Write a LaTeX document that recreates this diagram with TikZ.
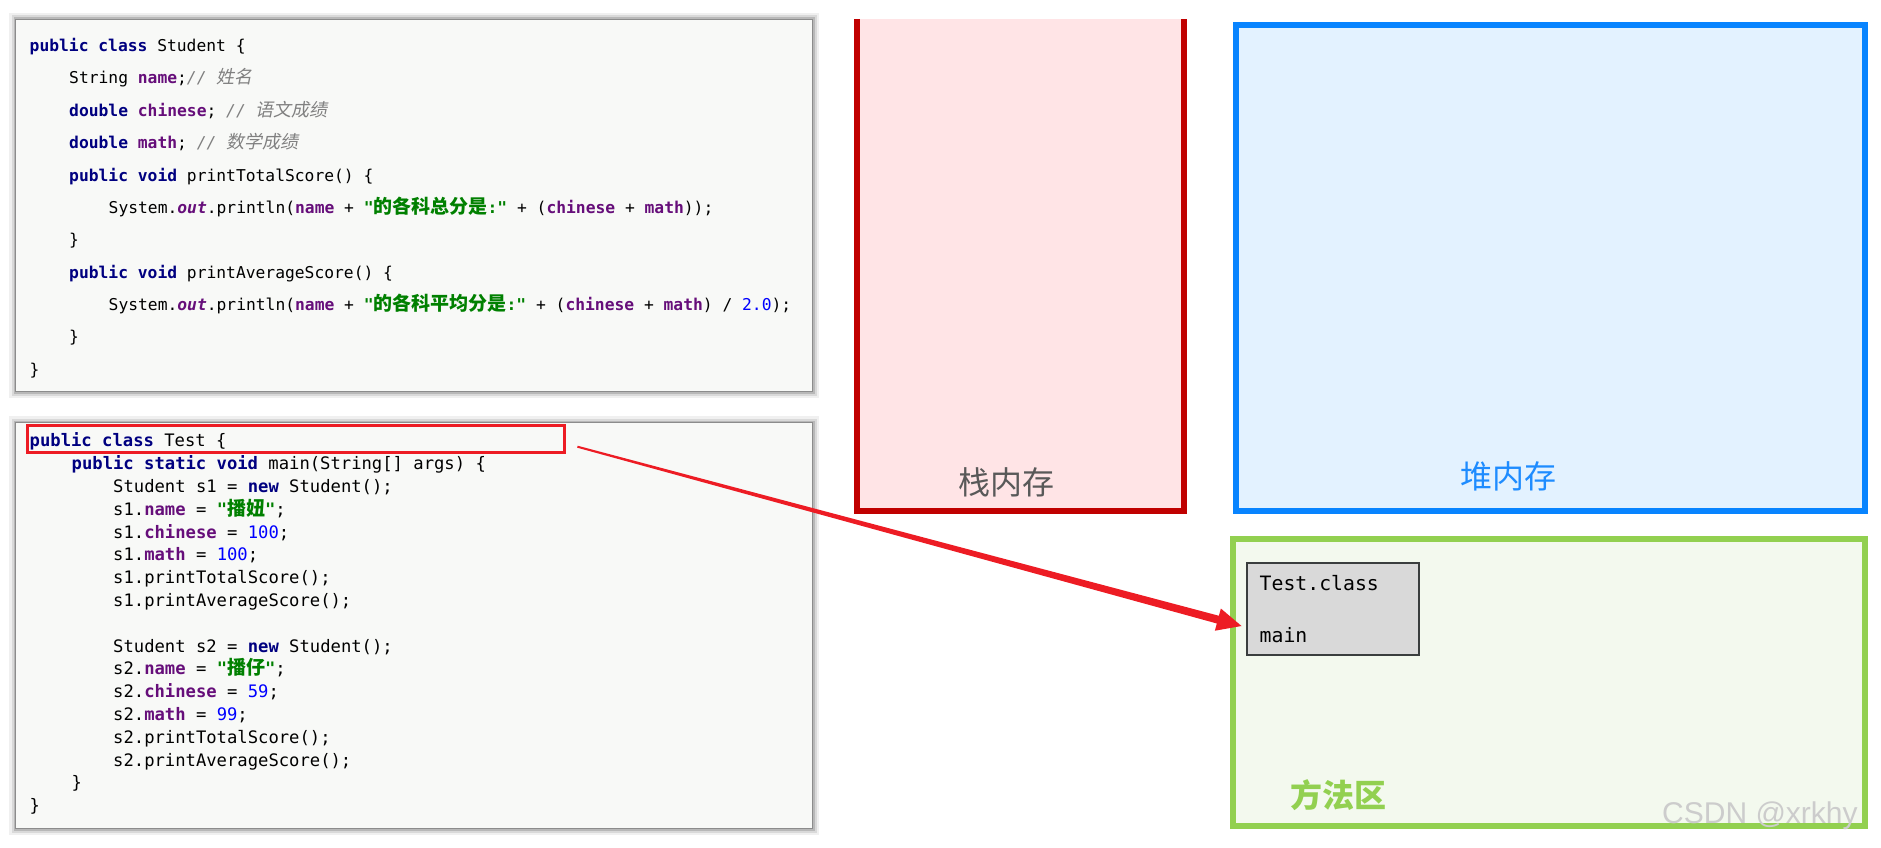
\documentclass[tikz,border=0pt]{standalone}
\usepackage{fontspec}
\setmonofont{DejaVu Sans Mono}
\newfontfamily\cjk[AutoFakeSlant=0.2]{Noto Sans CJK SC}
\newfontfamily\wmfont{Liberation Sans}
\usetikzlibrary{calc}
\definecolor{kwc}{RGB}{0,0,128}
\definecolor{fdc}{RGB}{102,14,122}
\definecolor{strc}{RGB}{0,128,0}
\definecolor{numc}{RGB}{0,0,255}
\definecolor{cmc}{RGB}{128,128,128}
\definecolor{codebg}{RGB}{248,249,247}
\definecolor{hlred}{RGB}{237,28,36}
\definecolor{stackred}{RGB}{192,0,0}
\definecolor{stackfill}{RGB}{255,228,230}
\definecolor{heapblue}{RGB}{8,132,255}
\definecolor{heapfill}{RGB}{227,242,255}
\definecolor{methgreen}{RGB}{146,208,80}
\definecolor{methfill}{RGB}{243,249,238}
\definecolor{classfill}{RGB}{217,217,217}
\definecolor{classline}{RGB}{58,62,62}
\definecolor{stacktext}{RGB}{89,89,89}
\definecolor{heaptext}{RGB}{30,140,255}
\newcommand\jkw[1]{{\color{kwc}\bfseries #1}}
\newcommand\jfd[1]{{\color{fdc}\bfseries #1}}
\newcommand\jnum[1]{{\color{numc}#1}}
\newcommand\jstr[1]{{\color{strc}\bfseries #1}}
\newcommand\jcm[1]{{\color{cmc}\itshape #1}}
\newcommand\jout{{\color{fdc}\bfseries\itshape out}}
\newcommand\zhs[1]{{\cjk\bfseries\fontsize{19}{19}\selectfont #1}}
\newcommand\zhc[1]{{\cjk\itshape\fontsize{18}{18}\selectfont #1}}
\newcommand\scode{\ttfamily\fontsize{16.3}{20}\selectfont}
\newcommand\tcode{\ttfamily\fontsize{17.2}{20}\selectfont}
\newcommand\bigzh{\cjk\fontsize{32}{36}\selectfont}
\tikzset{
  codebox/.style={rectangle, inner sep=0, outer sep=0, fill=codebg,
    preaction={draw=black!6, line width=14pt},
    preaction={draw=black!15, line width=9pt},
    preaction={draw=black!28, line width=5pt},
    preaction={draw=black!45, line width=2.2pt}},
  sline/.style={anchor=base west, inner sep=0, font=\scode},
  tline/.style={anchor=base west, inner sep=0, font=\tcode},
  hlbox/.style={rectangle, draw=hlred, line width=3.2pt, inner sep=0},
  region/.style={rectangle, inner sep=0, outer sep=0},
  biglbl/.style={inner sep=0, font=\bigzh},
  classbox/.style={rectangle, fill=classfill, draw=classline, line width=2pt, inner sep=0},
  cline/.style={anchor=base west, inner sep=0, font=\ttfamily\fontsize{19.8}{20}\selectfont},
}
\begin{document}
\begin{tikzpicture}[x=1pt,y=-1pt]
\useasboundingbox (0,0) rectangle (1881,848);

% ---------- Student code box ----------
\node[codebox, minimum width=796pt, minimum height=371pt] (sbox) at (414,205.5) {};
\node[sline] (s1)  at (29.5,51.5)  {\jkw{public} \jkw{class} Student \{};
\node[sline] (s2)  at (69,83.9)    {String \jfd{name};\jcm{// \zhc{姓名}}};
\node[sline] (s3)  at (69,116.3)   {\jkw{double} \jfd{chinese}; \jcm{// \zhc{语文成绩}}};
\node[sline] (s4)  at (69,148.6)   {\jkw{double} \jfd{math}; \jcm{// \zhc{数学成绩}}};
\node[sline] (s5)  at (69,181.0)   {\jkw{public} \jkw{void} printTotalScore() \{};
\node[sline] (s6)  at (108.5,213.4) {System.\jout.println(\jfd{name} + \jstr{"\zhs{的各科总分是}:"} + (\jfd{chinese} + \jfd{math}));};
\node[sline] (s7)  at (69,245.8)   {\}};
\node[sline] (s8)  at (69,278.2)   {\jkw{public} \jkw{void} printAverageScore() \{};
\node[sline] (s9)  at (108.5,310.5) {System.\jout.println(\jfd{name} + \jstr{"\zhs{的各科平均分是}:"} + (\jfd{chinese} + \jfd{math}) / \jnum{2.0});};
\node[sline] (s10) at (69,342.9)   {\}};
\node[sline] (s11) at (29.5,375.3) {\}};

% ---------- Test code box ----------
\node[codebox, minimum width=796pt, minimum height=405pt] (tbox) at (414,625.5) {};
\node[hlbox, minimum width=537.3pt, minimum height=27pt] (hl) at (295.85,439) {};
\node[tline] (t1)  at (29.5,446.8)  {\jkw{public} \jkw{class} Test \{};
\node[tline] (t2)  at (71.5,469.6)  {\jkw{public} \jkw{static} \jkw{void} main(String[] args) \{};
\node[tline] (t3)  at (113,492.4)   {Student s1 = \jkw{new} Student();};
\node[tline] (t4)  at (113,515.2)   {s1.\jfd{name} = \jstr{"\zhs{播妞}"};};
\node[tline] (t5)  at (113,538.0)   {s1.\jfd{chinese} = \jnum{100};};
\node[tline] (t6)  at (113,560.8)   {s1.\jfd{math} = \jnum{100};};
\node[tline] (t7)  at (113,583.6)   {s1.printTotalScore();};
\node[tline] (t8)  at (113,606.4)   {s1.printAverageScore();};
\node[tline] (t10) at (113,652.0)   {Student s2 = \jkw{new} Student();};
\node[tline] (t11) at (113,674.8)   {s2.\jfd{name} = \jstr{"\zhs{播仔}"};};
\node[tline] (t12) at (113,697.6)   {s2.\jfd{chinese} = \jnum{59};};
\node[tline] (t13) at (113,720.4)   {s2.\jfd{math} = \jnum{99};};
\node[tline] (t14) at (113,743.2)   {s2.printTotalScore();};
\node[tline] (t15) at (113,766.0)   {s2.printAverageScore();};
\node[tline] (t16) at (71.5,788.8)  {\}};
\node[tline] (t17) at (29.5,811.6)  {\}};

% ---------- Stack ----------
\node[region, fill=stackfill, minimum width=327.3pt, minimum height=492pt] (stack) at (1020.65,265) {};
\draw[stackred, line width=6pt, line join=miter]
  (stack.north west) -- (stack.south west) -- (stack.south east) -- (stack.north east);
\node[biglbl, text=stacktext] (stacklbl) at (1006,482) {栈内存};

% ---------- Heap ----------
\node[region, fill=heapfill, draw=heapblue, line width=6pt, minimum width=629pt, minimum height=486pt] (heap) at (1550.5,268) {};
\node[biglbl, text=heaptext] (heaplbl) at (1508.5,476.5) {堆内存};

% ---------- Method area ----------
\node[region, fill=methfill, draw=methgreen, line width=6pt, minimum width=632pt, minimum height=287pt] (meth) at (1549,682.5) {};
\node[biglbl, text=methgreen, font=\bigzh\bfseries] (methlbl) at (1338.6,795) {方法区};
\node[classbox, minimum width=172pt, minimum height=92.7pt] (tc) at (1332.5,608.9) {};
\node[cline] (tc1) at (1259.5,590) {Test.class};
\node[cline] (tc2) at (1259.5,642.5) {main};

% ---------- Arrow ----------
\coordinate (as) at ([xshift=11.3pt,yshift=-7.7pt]hl.east);
\coordinate (ae) at ([xshift=-4pt,yshift=-17.1pt]tc.west);
\coordinate (hb) at ($(ae)!24.5pt!(as)$);
\fill[hlred] ($(as)!1pt!90:(ae)$) -- ($(hb)!4pt!90:(ae)$) -- ($(hb)!11.5pt!90:(ae)$) -- (ae)
  -- ($(hb)!11.5pt!-90:(ae)$) -- ($(hb)!4pt!-90:(ae)$) -- ($(as)!1pt!-90:(ae)$) -- cycle;

% ---------- Watermark ----------
\node[anchor=base west, inner sep=0, font=\wmfont\fontsize{30}{30}\selectfont, text=gray!40] (wm) at (1662,823) {CSDN @xrkhy};
\end{tikzpicture}
\end{document}
